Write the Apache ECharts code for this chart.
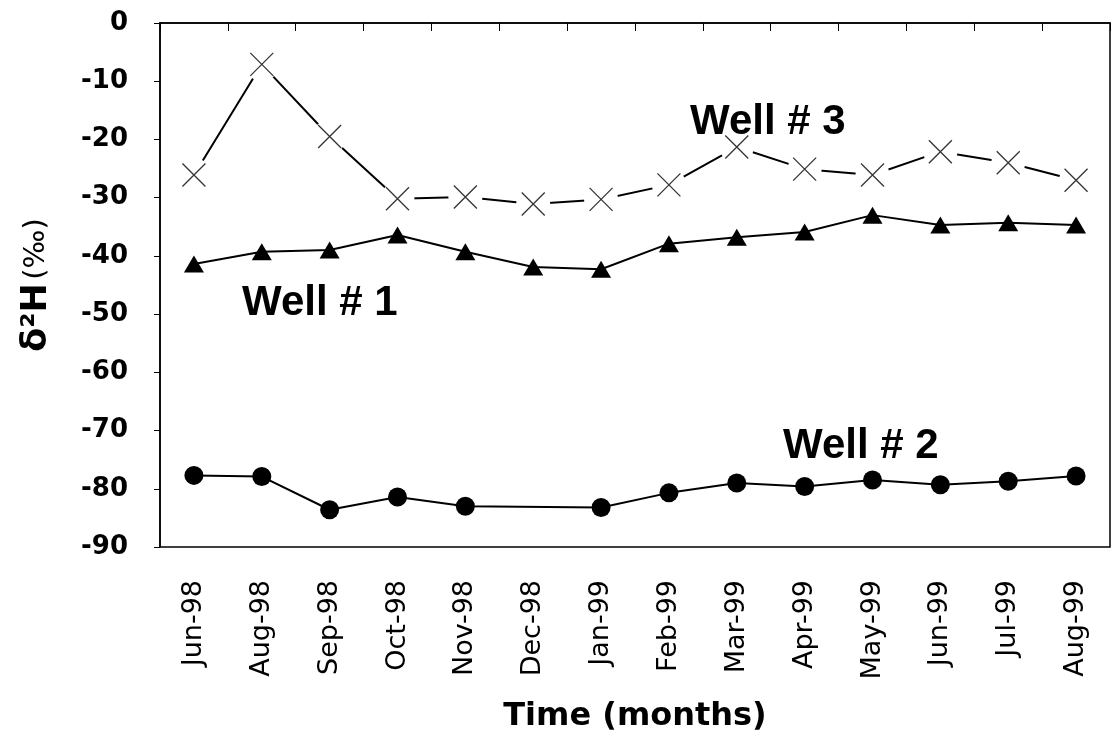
<!DOCTYPE html>
<html>
<head>
<meta charset="utf-8">
<style>
  html, body { margin: 0; padding: 0; background: #fff; }
  #chart { width: 1114px; height: 737px; }
</style>
<script src="https://cdn.jsdelivr.net/npm/echarts@6/dist/echarts.min.js"></script>
</head>
<body>
<div id="chart"></div>
<script>
// Sampling months
const months = ['Jun-98', 'Aug-98', 'Sep-98', 'Oct-98', 'Nov-98', 'Dec-98', 'Jan-99',
                'Feb-99', 'Mar-99', 'Apr-99', 'May-99', 'Jun-99', 'Jul-99', 'Aug-99'];

// δ2H (‰) per well
const well1 = [-41.4, -39.3, -39.0, -36.4, -39.3, -41.9, -42.3, -37.9, -36.8, -35.9, -33.0, -34.7, -34.3, -34.7];
const well2 = [-77.7, -77.9, -83.6, -81.4, -83.0, null, -83.2, -80.7, -79.0, -79.6, -78.5, -79.3, -78.7, -77.8];
const well3 = [-26.1, -7.1, -19.5, -30.2, -29.9, -31.1, -30.3, -27.8, -21.3, -25.1, -26.1, -22.1, -24.0, -27.0];

// Y axis range
const yMin = -90, yMax = 0, yStep = 10;

const chart = echarts.init(document.getElementById('chart'), null, { renderer: 'canvas' });

const X_MARK = 'path://M0,0L10,10M10,0L0,10';

chart.setOption({
  animation: false,
  backgroundColor: '#fff',
  grid: {
    left: 160, top: 23, right: 4, bottom: 190,
    outerBoundsMode: 'none',
    containLabel: false,
    show: true, borderColor: '#000', borderWidth: 1.5, backgroundColor: 'transparent'
  },
  xAxis: {
    type: 'category',
    data: months,
    boundaryGap: true,
    name: 'Time (months)',
    nameLocation: 'middle',
    nameGap: 154,
    nameTextStyle: { fontFamily: 'DejaVu Sans', fontWeight: 'bold', fontSize: 32, color: '#000' },
    axisLine: { lineStyle: { color: '#000', width: 1.5 } },
    axisTick: { show: true, inside: false, length: 8, lineStyle: { color: '#000', width: 1 } },
    axisLabel: {
      rotate: 90, margin: 33, interval: 0,
      fontFamily: 'DejaVu Sans', fontSize: 27, color: '#000'
    },
    splitLine: { show: false }
  },
  yAxis: {
    type: 'value',
    min: yMin, max: yMax, interval: yStep,
    name: '{b|δ²H} {r|(‰)}',
    nameLocation: 'middle',
    nameGap: 106,
    nameRotate: 90,
    nameTextStyle: {
      color: '#000',
      rich: {
        b: { fontFamily: 'DejaVu Sans', fontWeight: 'bold', fontSize: 35, color: '#000' },
        r: { fontFamily: 'DejaVu Sans', fontSize: 29, color: '#000' }
      }
    },
    axisLine: { show: true, lineStyle: { color: '#000', width: 1.5 } },
    axisTick: { show: true, inside: false, length: 6, lineStyle: { color: '#000', width: 1 } },
    axisLabel: {
      margin: 32, fontFamily: 'DejaVu Sans', fontWeight: 'bold', fontSize: 26, color: '#000'
    },
    splitLine: { show: false }
  },
  series: [
    {
      name: 'Well # 1',
      type: 'line',
      data: well1,
      symbol: 'triangle',
      symbolSize: [20, 17],
      itemStyle: { color: '#000' },
      lineStyle: { color: '#000', width: 2 },
      z: 3
    },
    {
      name: 'Well # 2',
      type: 'line',
      data: well2,
      connectNulls: true,
      symbol: 'circle',
      symbolSize: 19,
      itemStyle: { color: '#000' },
      lineStyle: { color: '#000', width: 2 },
      z: 3
    },
    {
      // line broken around each marker by a white disc
      name: 'Well # 3',
      type: 'line',
      data: well3,
      symbol: 'circle',
      symbolSize: 34,
      itemStyle: { color: '#fff', borderWidth: 0 },
      lineStyle: { color: '#000', width: 2 },
      z: 3
    },
    {
      name: 'Well # 3 markers',
      type: 'scatter',
      data: well3,
      symbol: X_MARK,
      symbolSize: 23,
      itemStyle: { color: 'transparent', borderColor: '#000', borderWidth: 1.3 },
      z: 4
    }
  ],
  graphic: [
    {
      type: 'text', left: 690, top: 101, z: 10,
      style: { text: 'Well # 3', fontFamily: 'Liberation Sans', fontWeight: 'bold', fontSize: 42, fill: '#000' }
    },
    {
      type: 'text', left: 242, top: 282, z: 10,
      style: { text: 'Well # 1', fontFamily: 'Liberation Sans', fontWeight: 'bold', fontSize: 42, fill: '#000' }
    },
    {
      type: 'text', left: 783, top: 425, z: 10,
      style: { text: 'Well # 2', fontFamily: 'Liberation Sans', fontWeight: 'bold', fontSize: 42, fill: '#000' }
    }
  ]
});
</script>
</body>
</html>
